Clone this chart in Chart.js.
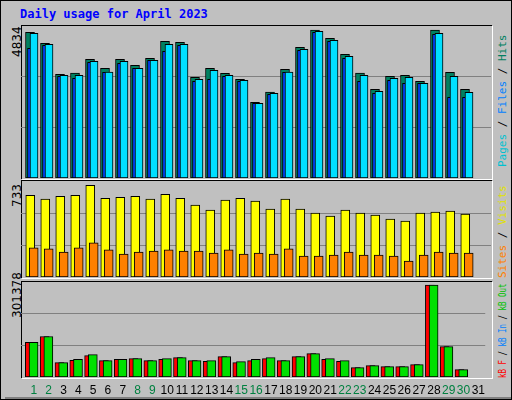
<!DOCTYPE html>
<html>
<head>
<meta charset="utf-8">
<script src="https://cdn.jsdelivr.net/npm/chart.js@4"></script>
<style>
  body { margin: 0; background: #fff; }
  #frame { position: absolute; left: 0; top: 0; width: 510px; height: 398px; background: #c0c0c0; border: 1px solid #000; overflow: hidden; }
  #frame:after { content: ''; position: absolute; left: 4px; top: 396px; width: 510px; height: 4px; background: #808080; }
  .title { position: absolute; left: 19px; top: 6px; font: bold 12px "DejaVu Sans Mono", monospace; color: #0000ff; }
  .panel { position: absolute; left: 20px; width: 470px; border-top: 1px solid #000; border-left: 1px solid #000; box-shadow: 1px 1px 0 #fff; }
  canvas { position: absolute; }
  .rot { position: absolute; transform-origin: 0 0; transform: rotate(-90deg); white-space: nowrap; font: 11px "DejaVu Sans Mono", monospace; }
  .ylab { position: absolute; transform-origin: 0 0; transform: rotate(-90deg); white-space: nowrap; font: 12px "DejaVu Sans", sans-serif; color: #000; }
</style>
</head>
<body>
<div id="frame">
  <div class="title">Daily usage for April 2023</div>
  <div class="panel" style="top:24px;height:153px"></div>
  <div class="panel" style="top:179px;height:97px"></div>
  <div class="panel" style="top:280px;height:96px"></div>
  <div class="ylab" style="left:9px;top:56px">4834</div>
  <div class="ylab" style="left:9px;top:206px">733</div>
  <div class="ylab" style="left:9px;top:317px">301378</div>
  <div class="rot" style="left:495px;top:166px"><span style="color:#00c0d0">Pages</span> / <span style="color:#0080ff">Files</span> / <span style="color:#008060">Hits</span></div>
  <div class="rot" style="left:495px;top:277px"><span style="color:#ff8000">Sites</span> / <span style="color:#e0e000">Visits</span></div>
  <div class="rot" style="left:495px;top:377px;transform:rotate(-90deg) scaleX(0.68)"><span style="color:#ff0000">kB F</span> / <span style="color:#0080ff">kB In</span> / <span style="color:#00c000">kB Out</span></div>
  <canvas id="c1" style="left:20px;top:25px" width="470" height="152"></canvas>
  <canvas id="c2" style="left:20px;top:180px" width="470" height="96"></canvas>
  <canvas id="c3" style="left:20px;top:281px" width="470" height="119"></canvas>
</div>
<script>
// Daily values, April 2023
const days = Array.from({ length: 31 }, (_, i) => i + 1);
const hits = [4759, 4399, 3387, 3429, 3877, 3583, 3877, 3681, 3909, 4465, 4432, 3289, 3583, 3419, 3224,
  2472, 2809, 3550, 4269, 4834, 4563, 4040, 3429, 2897, 3322, 3354, 3158, 4830, 3452, 2897];
const files = [4726, 4367, 3354, 3354, 3811, 3462, 3811, 3583, 3844, 4367, 4367, 3224, 3517, 3354, 3191,
  2440, 2766, 3462, 4203, 4791, 4497, 3975, 3354, 2832, 3256, 3289, 3093, 4726, 3322, 2799];
const pages = [4236, 4334, 3322, 3256, 3779, 3452, 3746, 3583, 3844, 4138, 4334, 3158, 3224, 3322, 3158,
  2440, 2734, 3452, 4171, 4759, 4465, 3909, 3158, 2766, 3191, 3093, 3093, 4693, 2636, 2636];
const visits = [653, 622, 645, 653, 733, 629, 637, 645, 622, 661, 629, 574, 534, 614, 629,
  606, 542, 622, 542, 510, 486, 534, 510, 494, 462, 446, 510, 518, 526, 502];
const sites = [234, 226, 199, 234, 274, 218, 183, 199, 207, 218, 207, 207, 191, 218, 183,
  191, 183, 226, 167, 167, 175, 199, 175, 175, 167, 127, 175, 199, 191, 191];
const kbOut = [113984, 132616, 47128, 58088, 73432, 53704, 58088, 60280, 53704, 60280, 63568, 53704, 53704, 66856, 50416,
  58088, 63568, 53704, 66856, 76720, 60280, 53704, 30688, 37264, 33976, 33976, 40552, 301378, 99736, 24112];
const kbF = [113984, 132616, 47128, 54800, 70144, 53704, 58088, 60280, 53704, 58088, 63568, 53704, 51512, 66856, 47128,
  53704, 60280, 53704, 66856, 76720, 58088, 51512, 30688, 37264, 33976, 33976, 40552, 301378, 99736, 24112];
const weekend = [1, 2, 8, 9, 15, 16, 22, 23, 29, 30];

function pts(values, shift) {
  return values.map((v, i) => ({ x: days[i] + shift, y: v }));
}

function bars(label, values, shift, color, width, order) {
  return {
    label, data: pts(values, shift), backgroundColor: color, borderColor: '#000',
    borderWidth: 1, barThickness: width, order, grouped: false, borderSkipped: false
  };
}

function makeChart(id, datasets, ymax, showDays) {
  new Chart(document.getElementById(id), {
    type: 'bar',
    data: { datasets },
    options: {
      responsive: false, animation: false,
      plugins: { legend: { display: false }, tooltip: { enabled: false } },
      layout: { padding: 0 },
      scales: {
        x: {
          type: 'linear', min: 0.133, max: 31.467, offset: false,
          grid: { display: false, drawTicks: false }, border: { display: false },
          afterBuildTicks: s => { s.ticks = days.map(v => ({ value: v })); },
          afterFit: s => { s.height = showDays ? 24 : 0; },
          ticks: {
            display: showDays, padding: 6, autoSkip: false, maxRotation: 0,
            font: { family: 'Liberation Sans', size: 12 },
            color: c => weekend.includes(c.tick.value) ? '#008040' : '#000'
          }
        },
        y: {
          min: 0, max: ymax,
          afterBuildTicks: s => { s.ticks = [1, 2].map(k => ({ value: ymax * k / 3 })); },
          afterFit: s => { s.width = 0; },
          grid: { color: '#808080', drawTicks: false }, border: { display: false },
          ticks: { display: false }
        }
      }
    }
  });
}

makeChart('c1', [
  bars('Hits', hits, -0.267, '#008060', 9, 3),
  bars('Pages', pages, -0.133, '#0040ff', 9, 2),
  bars('Files', files, 0, '#00e0ff', 8, 1)
], 4965, false);

makeChart('c2', [
  bars('Visits', visits, -0.25, '#ffff00', 9, 2),
  bars('Sites', sites, -0.02, '#ff8000', 9, 1)
], 767, false);

makeChart('c3', [
  bars('kB F', kbF, -0.27, '#ff0000', 9, 2),
  bars('kB Out', kbOut, -0.02, '#00e000', 9, 1)
], 311238, true);
</script>
</body>
</html>
